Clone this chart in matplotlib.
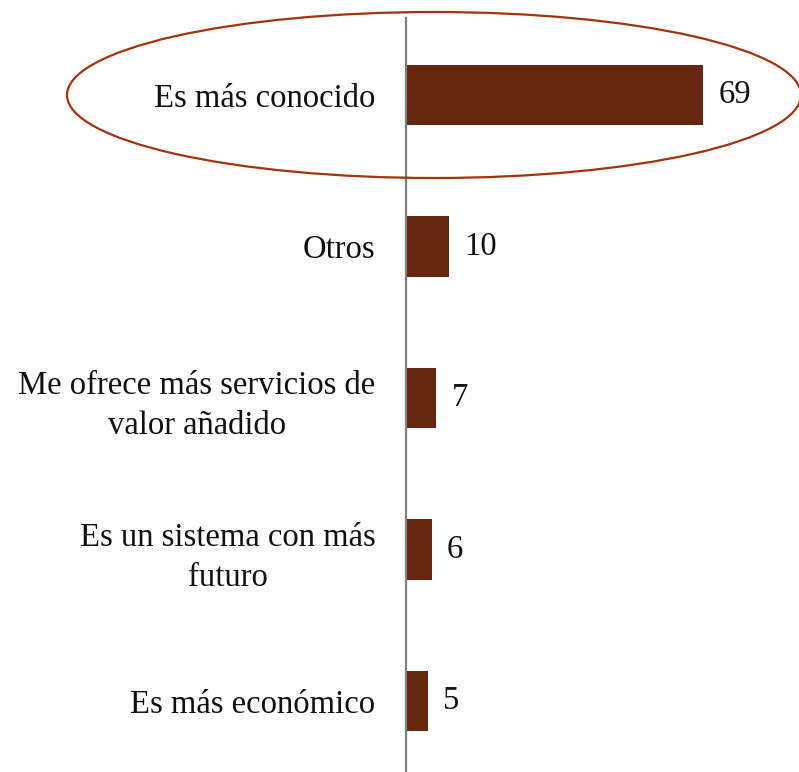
import matplotlib
matplotlib.use("Agg")
import matplotlib.pyplot as plt
from matplotlib.patches import Ellipse

# data
categories = ["Es más conocido", "Otros", "Me ofrece más servicios de\nvalor añadido",
              "Es un sistema con más\nfuturo", "Es más económico"]
values = [69, 10, 7, 6, 5]

bar_color = "#67260F"
ring_color = "#A3330F"
font = ["Liberation Serif", "DejaVu Serif"]
plt.rcParams["font.family"] = font

fig = plt.figure(figsize=(7.99, 7.72), dpi=100)
ax = fig.add_axes([406 / 799, 0, 393 / 799, 754 / 772])

ypos = list(range(len(categories)))
bars = ax.barh(ypos, values, height=0.40, color=bar_color)
ax.bar_label(bars, labels=[str(v) for v in values], padding=11, fontsize=23.5, color="#111111")

ax.set_xlim(0, 393 / 4.304)
ax.set_ylim(4.469, -0.508)
ax.set_yticks(ypos)
ax.set_yticklabels(categories, fontsize=23.5, color="#111111")
for t in ax.get_yticklabels():
    t.set_multialignment("center")
    t.set_linespacing(1.4)
ax.tick_params(axis="y", length=0, pad=22)
ax.set_xticks([])

for s in ["top", "right", "bottom"]:
    ax.spines[s].set_visible(False)
ax.spines["left"].set_color("#808080")
ax.spines["left"].set_linewidth(1.6)

# ring around the top answer (figure coords)
ring = Ellipse((434 / 799, 1 - 95 / 772), 734 / 799, 166 / 772,
               transform=fig.transFigure, fill=False, edgecolor=ring_color,
               linewidth=1.6, clip_on=False)
fig.patches.append(ring)

fig.savefig("out.png", dpi=100)
